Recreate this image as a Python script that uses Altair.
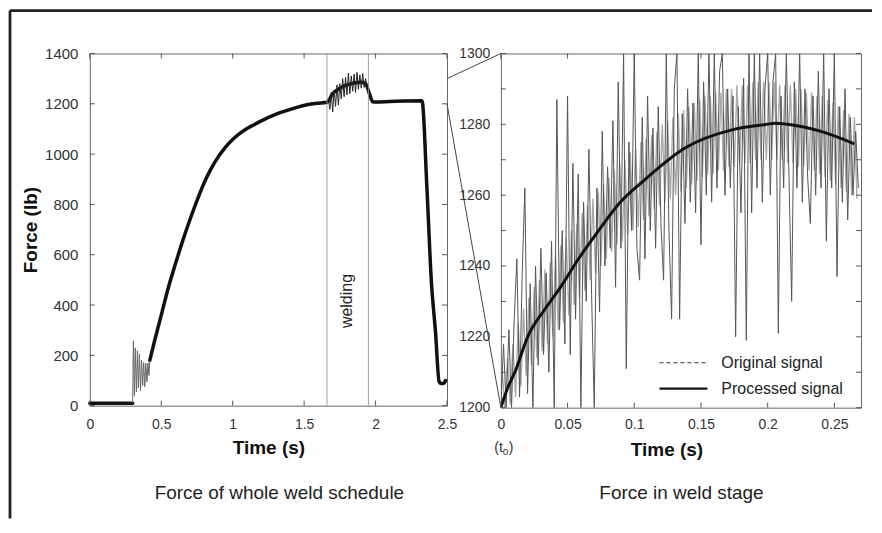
import altair as alt
import pandas as pd

FONT = "Liberation Sans"

# ---------------- Left panel: force of whole weld schedule ----------------
flat_t = [0.0, 0.10, 0.20, 0.30]
flat_f = [10, 10, 10, 10]

osc_t = [0.300, 0.305, 0.312, 0.318, 0.326, 0.333, 0.340, 0.347, 0.355,
         0.362, 0.370, 0.377, 0.385, 0.392, 0.400, 0.407, 0.414, 0.420]
osc_f = [10, 258, 40, 230, 55, 218, 70, 205, 60,
         180, 80, 172, 75, 168, 95, 170, 120, 180]

rise_t = [0.42, 0.45, 0.50, 0.55, 0.60, 0.65, 0.70, 0.75, 0.80, 0.85, 0.90,
          0.95, 1.00, 1.05, 1.10, 1.15, 1.20, 1.30, 1.36, 1.45, 1.52, 1.59,
          1.66, 1.70, 1.75, 1.80, 1.85, 1.90, 1.93, 1.96, 1.98, 2.00, 2.10,
          2.20, 2.325, 2.36, 2.39, 2.42, 2.445, 2.46, 2.48, 2.49]
rise_f = [180, 250, 360, 470, 565, 655, 738, 815, 885, 943, 990,
          1028, 1058, 1082, 1102, 1117, 1132, 1158, 1170, 1186, 1196, 1202,
          1206, 1240, 1262, 1275, 1283, 1286, 1280, 1235, 1208, 1207, 1209,
          1211, 1212, 860, 500, 290, 95, 88, 90, 100]

weld_t = [1.66, 1.67, 1.68, 1.69, 1.70, 1.71, 1.72, 1.73, 1.74, 1.75,
          1.76, 1.77, 1.78, 1.79, 1.80, 1.81, 1.82, 1.83, 1.84, 1.85,
          1.86, 1.87, 1.88, 1.89, 1.90, 1.91, 1.92, 1.93, 1.94, 1.95]
weld_f = [1206, 1222, 1178, 1245, 1168, 1255, 1190, 1275, 1195, 1280,
          1220, 1300, 1228, 1305, 1235, 1322, 1240, 1310, 1250, 1318,
          1245, 1325, 1258, 1315, 1262, 1320, 1265, 1300, 1270, 1280]

weld_bounds = [1.66, 1.95]
left_xticks = [0, 0.5, 1, 1.5, 2, 2.5]
left_yticks = [0, 200, 400, 600, 800, 1000, 1200, 1400]

# ---------------- Right panel: force in weld stage ----------------
orig_t = [round(0.002 * i, 3) for i in range(135)]
orig_f = [1200, 1218, 1200, 1222, 1200, 1225, 1242, 1203, 1238, 1262,
          1204, 1235, 1200, 1240, 1212, 1245, 1215, 1238, 1210, 1247,
          1200, 1287, 1222, 1250, 1218, 1288, 1215, 1269, 1225, 1266,
          1200, 1258, 1230, 1273, 1232, 1200, 1262, 1227, 1278, 1240,
          1268, 1245, 1281, 1234, 1292, 1245, 1300, 1211, 1275, 1250,
          1300, 1245, 1236, 1282, 1242, 1288, 1250, 1279, 1245, 1285,
          1252, 1236, 1300, 1250, 1225, 1290, 1300, 1225, 1283, 1252,
          1290, 1258, 1286, 1255, 1300, 1246, 1292, 1260, 1300, 1258,
          1300, 1262, 1295, 1300, 1260, 1290, 1262, 1288, 1220, 1285,
          1255, 1293, 1219, 1300, 1255, 1300, 1262, 1300, 1258, 1290,
          1300, 1260, 1292, 1300, 1221, 1288, 1262, 1300, 1265, 1230,
          1292, 1262, 1300, 1258, 1290, 1265, 1252, 1288, 1260, 1295,
          1262, 1300, 1247, 1290, 1262, 1300, 1237, 1285, 1258, 1290,
          1253, 1282, 1260, 1278, 1262]

# lighter, denser part of the original trace (band around the trend)
band_t = [round(0.001 + 0.002 * i, 3) for i in range(134)]
band_f = [1210, 1200, 1214, 1201, 1218, 1203, 1224, 1206, 1228, 1209,
          1231, 1212, 1234, 1214, 1236, 1216, 1239, 1218, 1241, 1220,
          1243, 1222, 1246, 1224, 1248, 1226, 1250, 1229, 1252, 1231,
          1255, 1233, 1257, 1236, 1259, 1238, 1261, 1240, 1263, 1242,
          1265, 1244, 1267, 1246, 1269, 1247, 1270, 1249, 1272, 1250,
          1273, 1251, 1275, 1253, 1276, 1254, 1277, 1256, 1278, 1257,
          1280, 1258, 1281, 1259, 1282, 1260, 1283, 1261, 1284, 1262,
          1285, 1263, 1286, 1264, 1287, 1265, 1288, 1266, 1288, 1266,
          1289, 1267, 1289, 1267, 1290, 1268, 1290, 1268, 1291, 1269,
          1291, 1269, 1291, 1269, 1292, 1270, 1292, 1270, 1292, 1270,
          1292, 1270, 1292, 1270, 1291, 1270, 1291, 1269, 1291, 1269,
          1290, 1268, 1290, 1268, 1289, 1267, 1289, 1267, 1288, 1266,
          1288, 1265, 1287, 1264, 1286, 1263, 1285, 1262, 1284, 1261,
          1283, 1260, 1282, 1259]

proc_t = [0.0, 0.005, 0.0105, 0.0204, 0.033, 0.0454, 0.058, 0.0704, 0.089,
          0.108, 0.138, 0.174, 0.1976, 0.206, 0.215, 0.240, 0.265]
proc_f = [1200, 1205.5, 1210, 1220.3, 1227.8, 1234.4, 1241.9, 1248.5, 1257.8,
          1264.4, 1273.3, 1278.5, 1279.9, 1280.3, 1280, 1278, 1274.5]

right_xticks = [0, 0.05, 0.1, 0.15, 0.2, 0.25]
right_ylabels = [1200, 1220, 1240, 1260, 1280, 1300]
right_yticks = [1200, 1210, 1220, 1230, 1240, 1250, 1260, 1270, 1280, 1290, 1300]

# ---------------- layout constants ----------------
W1, H1 = 358, 353
W2, H2 = 361, 355
GAP = 54
TICK = 5
TICK_COLOR = "#555"

common = dict(labelFont=FONT, titleFont=FONT, labelColor="#333", titleColor="#111",
              domain=False, ticks=False, tickSize=0, grid=False,
              labelFlush=False, labelOverlap=False)

xs_l = alt.Scale(domain=[0, 2.5], nice=False, zero=False)
ys_l = alt.Scale(domain=[0, 1400], nice=False)
xs_r = alt.Scale(domain=[0, 0.27], nice=False, zero=False)
ys_r = alt.Scale(domain=[1200, 1300], nice=False, zero=False)

ax_lx = alt.Axis(values=left_xticks, format="~g", title="Time (s)", labelFontSize=14,
                 labelPadding=12, titleFontSize=19, titleFontWeight="bold",
                 titlePadding=7, **common)
ax_ly = alt.Axis(values=left_yticks, format="d", title="Force (lb)", labelFontSize=15,
                 labelPadding=12, titleFontSize=19, titleFontWeight="bold",
                 titlePadding=4, **common)
ax_rx = alt.Axis(values=right_xticks, format="~g", title="Time (s)", labelFontSize=14,
                 labelPadding=10, titleFontSize=19, titleFontWeight="bold",
                 titlePadding=9, titleX=166, **common)
ax_ry = alt.Axis(values=right_ylabels, format="d", title=None, labelFontSize=14,
                 labelPadding=11, **common)

one = pd.DataFrame({"k": [0]})

# ---------------- left chart ----------------
main_df = pd.DataFrame({"t": flat_t + rise_t, "F": flat_f + rise_f,
                        "seg": ["a"] * len(flat_t) + ["b"] * len(rise_t)})
main = alt.Chart(main_df).mark_line(color="#111", strokeWidth=3.5, strokeJoin="round",
                                    strokeCap="round", interpolate="monotone").encode(
    x=alt.X("t:Q", scale=xs_l, axis=ax_lx),
    y=alt.Y("F:Q", scale=ys_l, axis=ax_ly),
    detail="seg:N")

osc = alt.Chart(pd.DataFrame({"t": osc_t, "F": osc_f})).mark_line(
    color="#666", strokeWidth=1).encode(x="t:Q", y="F:Q")

weld = alt.Chart(pd.DataFrame({"t": weld_t, "F": weld_f})).mark_line(
    color="#222", strokeWidth=1).encode(x="t:Q", y="F:Q")

weld_lines = alt.Chart(pd.DataFrame({"t": weld_bounds})).mark_rule(
    color="#999", strokeWidth=0.9).encode(x="t:Q")

weld_text = alt.Chart(pd.DataFrame({"t": [1.80], "F": [416], "s": ["welding"]})).mark_text(
    font=FONT, fontSize=16, angle=270, color="#222").encode(x="t:Q", y="F:Q", text="s:N")

lxt = pd.DataFrame({"t": left_xticks})
lyt = pd.DataFrame({"F": left_yticks})
l_ticks = [
    alt.Chart(lxt).mark_rule(color=TICK_COLOR).encode(x="t:Q", y=alt.value(H1), y2=alt.value(H1 - TICK)),
    alt.Chart(lxt).mark_rule(color=TICK_COLOR).encode(x="t:Q", y=alt.value(0), y2=alt.value(TICK)),
    alt.Chart(lyt).mark_rule(color=TICK_COLOR).encode(y="F:Q", x=alt.value(0), x2=alt.value(TICK)),
    alt.Chart(lyt).mark_rule(color=TICK_COLOR).encode(y="F:Q", x=alt.value(W1), x2=alt.value(W1 - TICK)),
]

conn_top = alt.Chart(pd.DataFrame({"t": [2.5], "F": [1300]})).mark_rule(
    color="#444", strokeWidth=1).encode(x="t:Q", y="F:Q", x2=alt.value(W1 + GAP), y2=alt.value(0))
conn_bot = alt.Chart(pd.DataFrame({"t": [2.5], "F": [1200]})).mark_rule(
    color="#444", strokeWidth=1).encode(x="t:Q", y="F:Q", x2=alt.value(W1 + GAP), y2=alt.value(H2))

frame_left = alt.Chart(one).mark_rule(color="#222", strokeWidth=2.8).encode(
    x=alt.value(-80), x2=alt.value(-80), y=alt.value(-43), y2=alt.value(466))
frame_top = alt.Chart(one).mark_rule(color="#222", strokeWidth=2.8).encode(
    x=alt.value(-80), x2=alt.value(784), y=alt.value(-43), y2=alt.value(-43))

cap_left = alt.Chart(pd.DataFrame({"c": ["Force of whole weld schedule"]})).mark_text(
    font=FONT, fontSize=19, color="#222").encode(text="c:N", x=alt.value(190), y=alt.value(441))

left = alt.layer(main, osc, weld, weld_lines, weld_text, *l_ticks, conn_top, conn_bot,
                 frame_left, frame_top, cap_left).properties(width=W1, height=H1)

# ---------------- right chart ----------------
band = alt.Chart(pd.DataFrame({"t": band_t, "F": band_f})).mark_line(
    color="#aaa", strokeWidth=1.4, clip=True).encode(
    x=alt.X("t:Q", scale=xs_r, axis=ax_rx),
    y=alt.Y("F:Q", scale=ys_r, axis=ax_ry))

orig = alt.Chart(pd.DataFrame({"t": orig_t, "F": orig_f})).mark_line(
    color="#555", strokeWidth=1, clip=True).encode(x="t:Q", y="F:Q")

proc = alt.Chart(pd.DataFrame({"t": proc_t, "F": proc_f})).mark_line(
    color="#111", strokeWidth=3, interpolate="monotone", clip=True).encode(x="t:Q", y="F:Q")

rxt = pd.DataFrame({"t": right_xticks})
ryt = pd.DataFrame({"F": right_yticks})
r_ticks = [
    alt.Chart(rxt).mark_rule(color=TICK_COLOR).encode(x="t:Q", y=alt.value(H2), y2=alt.value(H2 - TICK)),
    alt.Chart(rxt).mark_rule(color=TICK_COLOR).encode(x="t:Q", y=alt.value(0), y2=alt.value(TICK)),
    alt.Chart(ryt).mark_rule(color=TICK_COLOR).encode(y="F:Q", x=alt.value(0), x2=alt.value(TICK)),
    alt.Chart(ryt).mark_rule(color=TICK_COLOR).encode(y="F:Q", x=alt.value(W2), x2=alt.value(W2 - TICK)),
]

t0_df = pd.DataFrame({"t": [0.0], "a": ["(t"], "b": ["0"], "c": [")"]})
t0_a = alt.Chart(t0_df).mark_text(font=FONT, fontSize=14, color="#333", align="right",
                                  baseline="middle", dx=2).encode(
    x="t:Q", y=alt.value(395), text="a:N")
t0_b = alt.Chart(t0_df).mark_text(font=FONT, fontSize=10, color="#333", align="left",
                                  baseline="middle", dx=2, dy=4).encode(
    x="t:Q", y=alt.value(395), text="b:N")
t0_c = alt.Chart(t0_df).mark_text(font=FONT, fontSize=14, color="#333", align="left",
                                  baseline="middle", dx=8).encode(
    x="t:Q", y=alt.value(395), text="c:N")

leg_lines = pd.DataFrame({"name": ["Original signal", "Processed signal"]})
leg_orig = alt.Chart(leg_lines.iloc[[0]]).mark_rule(
    color="#333", strokeWidth=1.2, strokeDash=[4, 3]).encode(
    x=alt.value(159), x2=alt.value(207), y=alt.value(310))
leg_proc = alt.Chart(leg_lines.iloc[[1]]).mark_rule(
    color="#111", strokeWidth=2.2).encode(
    x=alt.value(159), x2=alt.value(207), y=alt.value(336))
leg_t1 = alt.Chart(leg_lines.iloc[[0]]).mark_text(
    font=FONT, fontSize=16, align="left", baseline="middle", color="#222").encode(
    text="name:N", x=alt.value(221), y=alt.value(310))
leg_t2 = alt.Chart(leg_lines.iloc[[1]]).mark_text(
    font=FONT, fontSize=16, align="left", baseline="middle", color="#222").encode(
    text="name:N", x=alt.value(221), y=alt.value(336))

cap_right = alt.Chart(pd.DataFrame({"c": ["Force in weld stage"]})).mark_text(
    font=FONT, fontSize=19, color="#222").encode(text="c:N", x=alt.value(181), y=alt.value(441))

right = alt.layer(band, orig, proc, *r_ticks, t0_a, t0_b, t0_c, leg_orig, leg_proc,
                  leg_t1, leg_t2, cap_right).properties(width=W2, height=H2)

chart = alt.hconcat(left, right, spacing=GAP, bounds="flush").properties(
    padding=0
).configure(font=FONT).configure_view(stroke="#666", strokeWidth=1)

chart.save("out.html", embed_options={"renderer": "svg", "actions": False})
